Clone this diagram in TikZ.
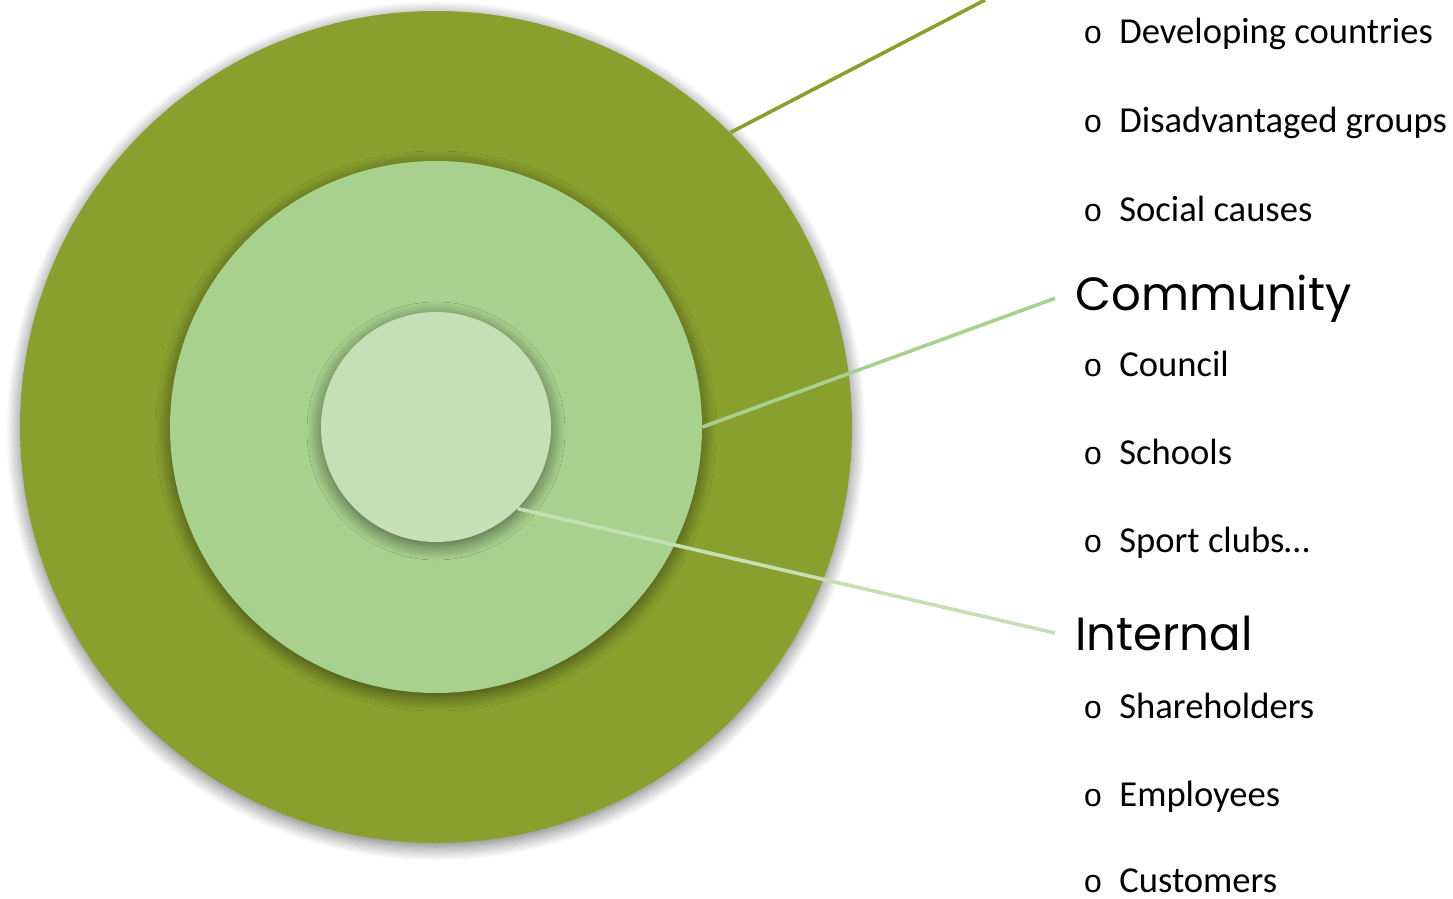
\documentclass[tikz,border=0pt]{standalone}
\usepackage{fontspec}
\setmainfont{Carlito}
\newfontfamily\headfont{Poppins}
\newfontfamily\bulfont{Liberation Mono}
\usetikzlibrary{positioning, shadows.blur}
\definecolor{outergreen}{RGB}{138,160,46}
\definecolor{midgreen}{RGB}{169,209,142}
\definecolor{innergreen}{RGB}{197,224,180}
\newcommand{\bulitem}[1]{\makebox[18pt][l]{\bulfont\fontsize{16}{16}\selectfont o}#1}
\tikzset{
x=0.5pt, y=-0.5pt, % one unit is one pixel of the layout
ring/.style={circle, inner sep=0pt, minimum size=#1,
  blur shadow={shadow xshift=0pt, shadow yshift=-2pt, shadow blur radius=7pt, shadow blur steps=12, shadow opacity=55}}, % the discs
link/.style={line width=1.8pt}, % the leader lines
header/.style={font=\headfont\fontsize{23.3}{24}\selectfont, anchor=base west, inner xsep=10pt, inner ysep=0pt},
item/.style={font=\fontsize{18.3}{20}\selectfont, anchor=base west, inner sep=0pt},
}
\begin{document}
\begin{tikzpicture}
  \useasboundingbox (0,0) rectangle (1453,899);
  % outer ring and its line
  \node[ring=416pt, fill=outergreen] (outer) at (436,427) {};
  \coordinate (outerend) at (985,0);
  \draw[link, outergreen] (outer.45) -- (outerend);
  % middle ring
  \node[ring=266pt, fill=midgreen] (middle) at (436,427) {};
  \node[header] (community) at (1055,310) {Community};
  \draw[link, midgreen] (middle.east) -- (community.west);
  % inner ring
  \node[ring=115pt, fill=innergreen] (inner) at (436,427) {};
  \node[header] (internal) at (1055,650) {Internal};
  \draw[link, innergreen] (inner.-45) -- (internal.west);
  % the lists
  \foreach \y/\name/\txt in {44/dev/Developing countries, 133/disadv/Disadvantaged groups, 221/social/Social causes,
      376/council/Council, 464/schools/Schools, 552/sport/Sport clubs…,
      718/share/Shareholders, 806/employ/Employees, 892/cust/Customers}
    \node[item] (\name) at (1083,\y) {\bulitem{\txt}};
\end{tikzpicture}
\end{document}
